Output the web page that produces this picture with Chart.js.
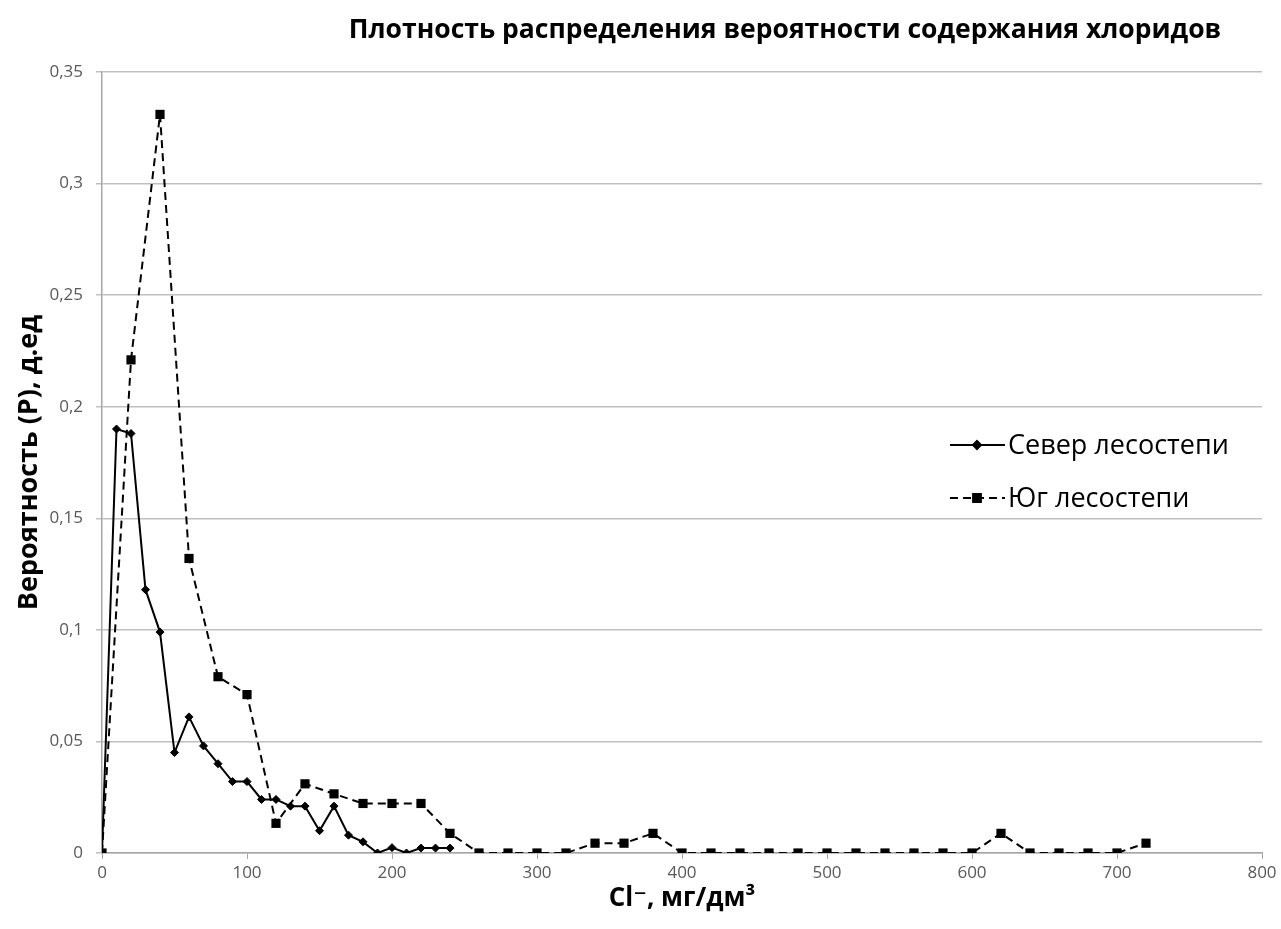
<!DOCTYPE html>
<html>
<head>
<meta charset="utf-8">
<script src="https://cdn.jsdelivr.net/npm/chart.js@4/dist/chart.umd.min.js"></script>
<style>
  html, body { margin: 0; padding: 0; background: #fff; }
  #wrap { width: 1281px; height: 929px; }
</style>
</head>
<body>
<div id="wrap"><canvas id="chlorideChart" width="1281" height="929"></canvas></div>
<script>
// Cl- concentration, mg/dm3 and probability values
const severX = [0, 10, 20, 30, 40, 50, 60, 70, 80, 90, 100, 110, 120, 130, 140, 150, 160, 170, 180, 190, 200, 210, 220, 230, 240];
const severY = [0, 0.19, 0.188, 0.118, 0.099, 0.045, 0.061, 0.048, 0.040, 0.032, 0.032, 0.024, 0.024, 0.021, 0.021, 0.010, 0.021, 0.008, 0.005, 0, 0.0024, 0, 0.0022, 0.0022, 0.0022];

const yugX = [0, 20, 40, 60, 80, 100, 120, 140, 160, 180, 200, 220, 240, 260, 280, 300, 320, 340, 360, 380, 400, 420, 440, 460, 480, 500, 520, 540, 560, 580, 600, 620, 640, 660, 680, 700, 720];
const yugY = [0, 0.221, 0.331, 0.132, 0.079, 0.071, 0.0133, 0.031, 0.0265, 0.0222, 0.0222, 0.0222, 0.0088, 0, 0, 0, 0, 0.0044, 0.0044, 0.0088, 0, 0, 0, 0, 0, 0, 0, 0, 0, 0, 0, 0.0088, 0, 0, 0, 0, 0.0044];

const seriesNames = ['Север лесостепи', 'Юг лесостепи'];
const yTickLabels = ['0', '0,05', '0,1', '0,15', '0,2', '0,25', '0,3', '0,35'];
const chartTitle = 'Плотность распределения вероятности содержания хлоридов';
const xTitle = 'Cl\u207B, мг/дм\u00B3';
const yTitle = 'Вероятность (P), д.ед';

const FONT = '"Open Sans", "DejaVu Sans", sans-serif';

function toPoints(xs, ys) {
  return xs.map((x, i) => ({ x: x, y: ys[i] }));
}

// title sits right of the plot centre in the original, so draw it by hand
const titlePlugin = {
  id: 'sideTitle',
  afterDraw(chart) {
    const ctx = chart.ctx;
    ctx.save();
    ctx.font = 'bold 26.5px ' + FONT;
    ctx.fillStyle = '#000';
    ctx.textAlign = 'center';
    ctx.textBaseline = 'middle';
    ctx.fillText(chartTitle, 785, 30);
    ctx.restore();
  }
};

// legend inside the plot, lines with markers like the spreadsheet one
const legendPlugin = {
  id: 'insideLegend',
  afterDraw(chart) {
    const ctx = chart.ctx;
    const rows = [445, 498];
    chart.data.datasets.forEach((ds, i) => {
      const y = rows[i];
      ctx.save();
      ctx.strokeStyle = ds.borderColor;
      ctx.lineWidth = ds.borderWidth;
      ctx.setLineDash(ds.borderDash || []);
      ctx.beginPath();
      ctx.moveTo(950, y);
      ctx.lineTo(1005, y);
      ctx.stroke();
      ctx.setLineDash([]);
      Chart.helpers.drawPoint(ctx, {
        pointStyle: ds.pointStyle,
        radius: ds.pointStyle === 'rect' ? 5.5 : ds.pointRadius,
        borderWidth: 1,
        rotation: 0
      }, 977, y);
      ctx.fillStyle = ds.pointBackgroundColor;
      ctx.fill();
      ctx.fillStyle = '#000';
      ctx.font = '27px ' + FONT;
      ctx.textBaseline = 'middle';
      ctx.fillText(ds.label, 1008, y + 1);
      ctx.restore();
    });
  }
};

const ctx = document.getElementById('chlorideChart').getContext('2d');
const chlorideChart = new Chart(ctx, {
  type: 'line',
  data: {
    datasets: [{
      label: seriesNames[0],
      data: toPoints(severX, severY),
      borderColor: '#000',
      borderWidth: 2,
      pointStyle: 'rectRot',
      pointRadius: 4,
      pointBackgroundColor: '#000',
      pointBorderColor: '#000',
      pointBorderWidth: 1,
      tension: 0
    }, {
      label: seriesNames[1],
      data: toPoints(yugX, yugY),
      borderColor: '#000',
      borderWidth: 2,
      borderDash: [8, 5],
      pointStyle: 'rect',
      pointRadius: 6.5,
      pointBackgroundColor: '#000',
      pointBorderColor: '#000',
      pointBorderWidth: 0,
      tension: 0
    }]
  },
  options: {
    responsive: false,
    animation: false,
    layout: { padding: { top: 72, right: 19, left: 0, bottom: 0 } },
    plugins: {
      legend: { display: false },
      title: { display: false },
      tooltip: { enabled: false }
    },
    scales: {
      x: {
        type: 'linear',
        min: 0,
        max: 800,
        afterFit: (scale) => { scale.height = 76; },
        ticks: {
          stepSize: 100,
          color: '#595959',
          font: { family: FONT, size: 17 },
          padding: 4,
          maxRotation: 0
        },
        grid: {
          drawOnChartArea: false,
          drawTicks: true,
          tickLength: 6,
          color: '#a6a6a6'
        },
        border: { color: '#a6a6a6', width: 1.5 },
        title: {
          display: true,
          text: xTitle,
          color: '#000',
          font: { family: FONT, size: 26, weight: 'bold' },
          padding: { top: 0, bottom: 15 }
        }
      },
      y: {
        min: 0,
        max: 0.35,
        afterFit: (scale) => { scale.width = 102; },
        ticks: {
          stepSize: 0.05,
          color: '#595959',
          font: { family: FONT, size: 17 },
          padding: 13,
          callback: (value, index) => yTickLabels[index]
        },
        grid: {
          color: '#bfbfbf',
          lineWidth: 1.5,
          drawTicks: true,
          tickLength: 6
        },
        border: { color: '#a6a6a6', width: 1.5 },
        title: {
          display: true,
          text: yTitle,
          color: '#000',
          font: { family: FONT, size: 27, weight: 'bold' },
          padding: { top: 13, bottom: 0 }
        }
      }
    }
  },
  plugins: [titlePlugin, legendPlugin]
});
</script>
</body>
</html>
